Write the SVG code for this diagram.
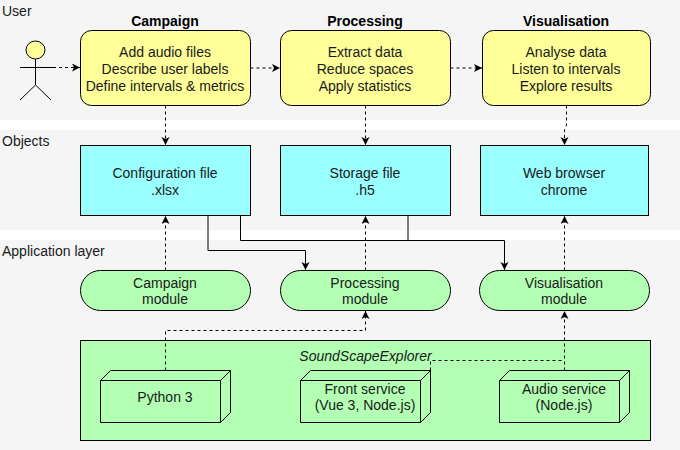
<svg xmlns="http://www.w3.org/2000/svg" width="680" height="450" viewBox="0 0 680 450">
<style>
text{font-family:"Liberation Sans",Arial,sans-serif;font-size:14px;fill:#1a1a1a;text-anchor:middle}
.l{text-anchor:start}
.b{font-weight:bold;fill:#000}
.band{fill:#f5f5f5}
.s{stroke:#000;stroke-width:1;fill:none}
.y{fill:#ffff99;stroke:#000}
.c{fill:#99ffff;stroke:#000}
.g{fill:#b3ffb3;stroke:#000}
.d{stroke:#000;fill:none;stroke-dasharray:3 3;marker-end:url(#a)}
.n{stroke:#000;fill:none;stroke-dasharray:3 3}
.p{stroke:#000;fill:none;marker-end:url(#a)}
</style>
<defs><marker id="a" markerUnits="userSpaceOnUse" markerWidth="10" markerHeight="10" refX="8" refY="4" orient="auto"><path d="M0 0L8 4L0 8L2 4Z" fill="#000"/></marker></defs>
<g id="bands">
<rect class="band" x="0" y="0" width="680" height="120"/>
<rect class="band" x="0" y="130" width="680" height="100"/>
<rect class="band" x="0" y="240" width="680" height="210"/>
<text class="l" x="2" y="16">User</text>
<text class="l" x="2" y="146">Objects</text>
<text class="l" x="2" y="256">Application layer</text>
<text class="b" x="165" y="26">Campaign</text>
<text class="b" x="365" y="26">Processing</text>
<text class="b" x="566" y="26">Visualisation</text>
</g>
<g id="actor" class="s">
<ellipse cx="35.5" cy="50" rx="9.5" ry="9" fill="#ffff99" stroke="#000"/>
<path d="M35.5 59V85M20 67.5H53M20 100L35.5 85L51 100"/>
</g>
<g id="campaign"><rect class="y" x="80.5" y="30.5" width="170" height="75" rx="11"/><text x="165" y="57">Add audio files</text><text x="165" y="74">Describe user labels</text><text x="165" y="91">Define intervals &amp; metrics</text></g>
<g id="processing"><rect class="y" x="280.5" y="30.5" width="170" height="75" rx="11"/><text x="365" y="57">Extract data</text><text x="365" y="74">Reduce spaces</text><text x="365" y="91">Apply statistics</text></g>
<g id="visualisation"><rect class="y" x="482.5" y="30.5" width="168" height="75" rx="11"/><text x="566" y="57">Analyse data</text><text x="566" y="74">Listen to intervals</text><text x="566" y="91">Explore results</text></g>
<g id="config"><rect class="c" x="80.5" y="145.5" width="170" height="70"/><text x="165" y="178">Configuration file</text><text x="165" y="195">.xlsx</text></g>
<g id="storage"><rect class="c" x="280.5" y="145.5" width="170" height="70"/><text x="365" y="178">Storage file</text><text x="365" y="195">.h5</text></g>
<g id="browser"><rect class="c" x="480.5" y="145.5" width="168" height="70"/><text x="564" y="178">Web browser</text><text x="564" y="195">chrome</text></g>
<g id="campaign-module"><rect class="g" x="80.5" y="270.5" width="170" height="40" rx="20"/><text x="165" y="288">Campaign</text><text x="165" y="304">module</text></g>
<g id="processing-module"><rect class="g" x="280.5" y="270.5" width="170" height="40" rx="20"/><text x="365" y="288">Processing</text><text x="365" y="304">module</text></g>
<g id="visualisation-module"><rect class="g" x="479.5" y="270.5" width="170" height="40" rx="20"/><text x="564" y="288">Visualisation</text><text x="564" y="304">module</text></g>
<g id="soundscape"><rect class="g" x="80.5" y="340.5" width="570" height="100"/><text x="365.5" y="361" font-style="italic">SoundScapeExplorer</text></g>
<g id="python"><path class="g" d="M100.5 380.5L110.5 370.5H230.5V412.5L220.5 422.5H100.5Z"/><path class="s" d="M100.5 380.5H220.5V422.5M220.5 380.5L230.5 370.5"/><text x="165" y="402">Python 3</text></g>
<g id="front"><path class="g" d="M300.5 380.5L310.5 370.5H430.5V412.5L420.5 422.5H300.5Z"/><path class="s" d="M300.5 380.5H420.5V422.5M420.5 380.5L430.5 370.5"/><text x="365" y="394">Front service</text><text x="365" y="410">(Vue 3, Node.js)</text></g>
<g id="audio"><path class="g" d="M499.5 380.5L509.5 370.5H629.5V412.5L619.5 422.5H499.5Z"/><path class="s" d="M499.5 380.5H619.5V422.5M619.5 380.5L629.5 370.5"/><text x="564" y="394">Audio service</text><text x="564" y="410">(Node.js)</text></g>
<g id="connectors">
<path class="d" d="M53 67.5H80"/>
<path class="d" d="M250.5 68H280"/>
<path class="d" d="M450.5 68H482"/>
<path class="d" d="M165.5 105.5V145"/>
<path class="d" d="M365.5 105.5V145"/>
<path class="d" d="M566.5 105.5V125L564.5 130V145"/>
<path class="d" d="M165.5 270.5V216"/>
<path class="d" d="M365.5 270.5V216"/>
<path class="d" d="M564.5 270.5V216"/>
<path class="p" d="M208 215.5V250.5H305.5V270"/>
<path class="p" d="M240.5 215.5V240.5H504.5V270"/>
<path class="s" d="M408 215.5V240.5"/>
<path class="d" d="M165.5 370.5V330.5H365.5V311"/>
<path class="n" d="M430.5 370.5V360.5H564.5"/>
<path class="d" d="M564.5 370.5V311"/>
</g>
</svg>
